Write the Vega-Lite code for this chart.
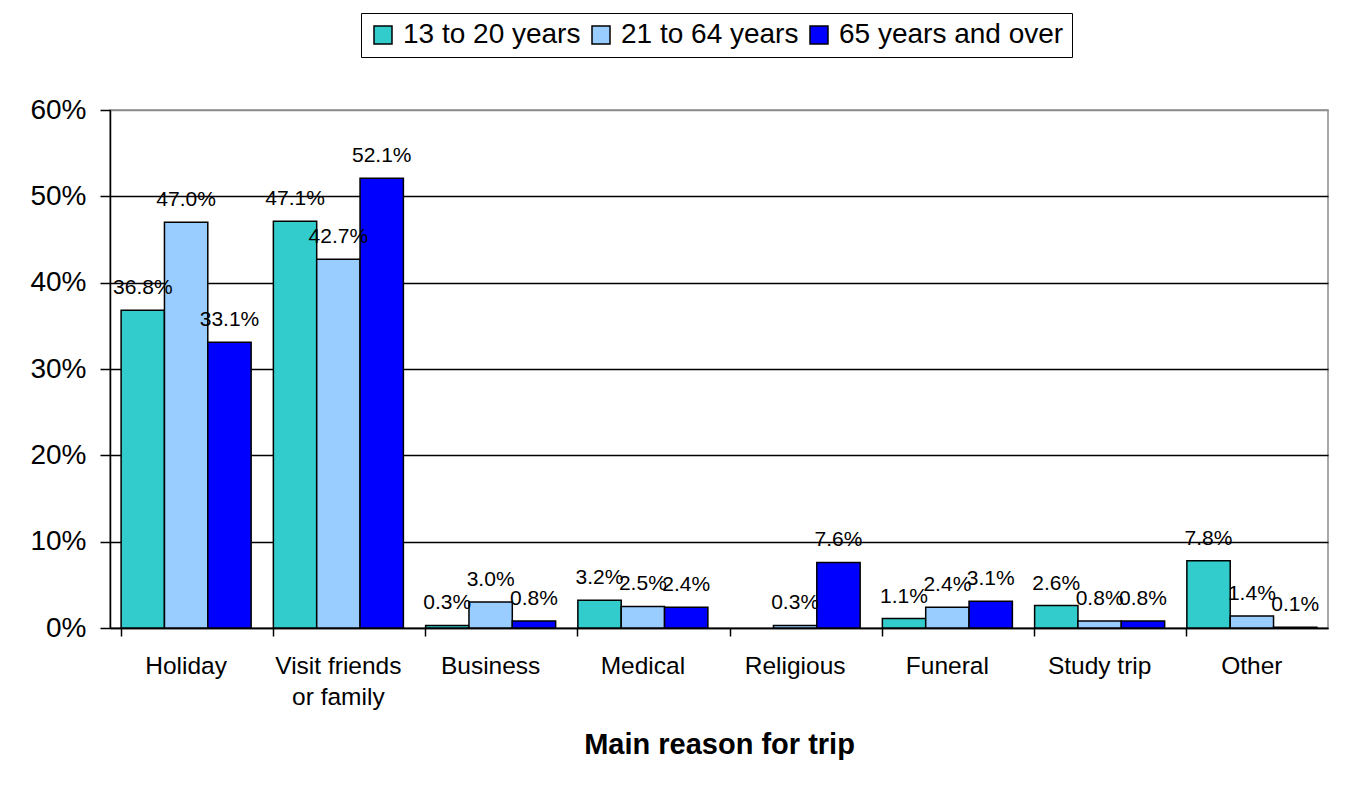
{
  "$schema": "https://vega.github.io/schema/vega-lite/v6.json",
  "width": 1218,
  "height": 518,
  "autosize": {"type": "none"},
  "padding": {"left": 110, "top": 110, "right": 20, "bottom": 161},
  "background": "white",
  "data": {
    "values": [
      {"reason": "Holiday", "group": "13 to 20 years", "value": 0.368},
      {"reason": "Holiday", "group": "21 to 64 years", "value": 0.470},
      {"reason": "Holiday", "group": "65 years and over", "value": 0.331},
      {"reason": "Visit friends or family", "group": "13 to 20 years", "value": 0.471},
      {"reason": "Visit friends or family", "group": "21 to 64 years", "value": 0.427},
      {"reason": "Visit friends or family", "group": "65 years and over", "value": 0.521},
      {"reason": "Business", "group": "13 to 20 years", "value": 0.003},
      {"reason": "Business", "group": "21 to 64 years", "value": 0.030},
      {"reason": "Business", "group": "65 years and over", "value": 0.008},
      {"reason": "Medical", "group": "13 to 20 years", "value": 0.032},
      {"reason": "Medical", "group": "21 to 64 years", "value": 0.025},
      {"reason": "Medical", "group": "65 years and over", "value": 0.024},
      {"reason": "Religious", "group": "13 to 20 years", "value": null},
      {"reason": "Religious", "group": "21 to 64 years", "value": 0.003},
      {"reason": "Religious", "group": "65 years and over", "value": 0.076},
      {"reason": "Funeral", "group": "13 to 20 years", "value": 0.011},
      {"reason": "Funeral", "group": "21 to 64 years", "value": 0.024},
      {"reason": "Funeral", "group": "65 years and over", "value": 0.031},
      {"reason": "Study trip", "group": "13 to 20 years", "value": 0.026},
      {"reason": "Study trip", "group": "21 to 64 years", "value": 0.008},
      {"reason": "Study trip", "group": "65 years and over", "value": 0.008},
      {"reason": "Other", "group": "13 to 20 years", "value": 0.078},
      {"reason": "Other", "group": "21 to 64 years", "value": 0.014},
      {"reason": "Other", "group": "65 years and over", "value": 0.001}
    ]
  },
  "encoding": {
    "x": {
      "field": "reason",
      "type": "nominal",
      "sort": null,
      "scale": {"paddingInner": 0.146, "paddingOuter": 0.073},
      "axis": {
        "title": "Main reason for trip",
        "titleFont": "Liberation Sans",
        "titleFontSize": 29,
        "titleFontWeight": "bold",
        "titleColor": "black",
        "titlePadding": 22,
        "labelFont": "Liberation Sans",
        "labelFontSize": 24.5,
        "labelColor": "black",
        "labelAngle": 0,
        "labelPadding": 18,
        "labelLineHeight": 31,
        "labelLimit": 300,
        "labelExpr": "datum.label == 'Visit friends or family' ? ['Visit friends', 'or family'] : datum.label",
        "bandPosition": 0,
        "tickSize": 8,
        "tickColor": "black",
        "tickWidth": 1.5,
        "domainColor": "black",
        "domainWidth": 1.5,
        "grid": false
      }
    },
    "xOffset": {
      "field": "group",
      "type": "nominal",
      "sort": ["13 to 20 years", "21 to 64 years", "65 years and over"],
      "scale": {"paddingInner": 0, "paddingOuter": 0}
    },
    "y": {
      "field": "value",
      "type": "quantitative",
      "scale": {"domain": [0, 0.6], "nice": false},
      "axis": {
        "title": null,
        "format": ".0%",
        "values": [0, 0.1, 0.2, 0.3, 0.4, 0.5, 0.6],
        "labelFont": "Liberation Sans",
        "labelFontSize": 28,
        "labelColor": "black",
        "labelPadding": 14,
        "tickSize": 10,
        "tickColor": "black",
        "tickWidth": 1.5,
        "domainColor": "black",
        "domainWidth": 1.5,
        "grid": true,
        "gridColor": {"condition": {"test": "datum.value >= 0.6", "value": "#8c8c8c"}, "value": "black"},
        "gridWidth": 1.3
      }
    }
  },
  "layer": [
    {
      "mark": {"type": "bar", "stroke": "black", "strokeWidth": 1.5},
      "encoding": {
        "color": {
          "field": "group",
          "type": "nominal",
          "sort": ["13 to 20 years", "21 to 64 years", "65 years and over"],
          "scale": {
            "domain": ["13 to 20 years", "21 to 64 years", "65 years and over"],
            "range": ["#33CCCC", "#99CCFF", "#0000FF"]
          },
          "legend": {
            "title": null,
            "orient": "none",
            "direction": "horizontal",
            "legendX": 251,
            "legendY": -97,
            "strokeColor": "black",
            "fillColor": "white",
            "padding": 8,
            "symbolType": "square",
            "symbolSize": 324,
            "symbolStrokeColor": "black",
            "symbolStrokeWidth": 1.5,
            "symbolOpacity": 1,
            "labelFont": "Liberation Sans",
            "labelFontSize": 28,
            "labelColor": "black",
            "labelOffset": 6,
            "labelLimit": 400,
            "columnPadding": 6
          }
        }
      }
    },
    {
      "mark": {
        "type": "text",
        "font": "Liberation Sans",
        "fontSize": 21,
        "color": "black",
        "baseline": "alphabetic",
        "align": "center",
        "dy": -16
      },
      "encoding": {
        "text": {"field": "value", "type": "quantitative", "format": ".1%"}
      }
    }
  ],
  "config": {
    "view": {"stroke": "#8c8c8c", "strokeWidth": 1.5}
  }
}
